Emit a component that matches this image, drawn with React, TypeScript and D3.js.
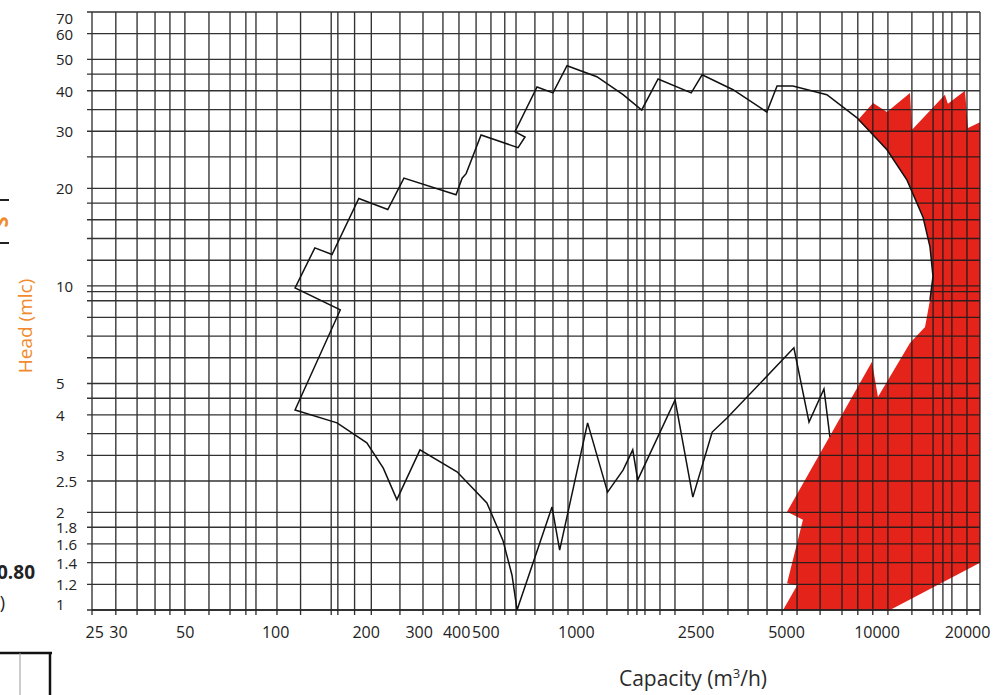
import React from "react";
import * as d3 from "d3";

// vertical grid lines (capacity, m3/h)
const capacityGrid = [24.5, 29.4, 34.6, 39.7, 44.5, 49.9, 60, 70.5, 79.6, 86, 101, 121, 153, 161, 183, 208, 259, 309, 360, 407, 464, 520, 578, 630, 728, 836, 938, 1053, 1264, 1485, 1590, 1691, 1897, 2128, 2637, 3193, 3724, 4307, 4832, 5420, 6466, 7646, 8630, 9680, 10868, 13059, 15360, 16560, 17740, 19910, 22000];
// horizontal grid lines (head, m)
const headGrid = [1, 1.2, 1.4, 1.6, 1.8, 2, 2.5, 3, 3.5, 4, 4.5, 5, 6, 7, 8, 9, 9.6, 10, 12, 14, 16, 18, 20, 25, 30, 35, 40, 45, 50, 60, 70];

const capacityTicks = [25, 30, 50, 100, 200, 300, 400, 500, 1000, 2500, 5000, 10000, 20000];
const headTicks = [1, 1.2, 1.4, 1.6, 1.8, 2, 2.5, 3, 4, 5, 10, 20, 30, 40, 50, 60, 70];

// black envelope outline
const envelopeCapacity = [6970, 6660, 5940, 5290, 3170, 2830, 2440, 2130, 1600, 1540, 1430, 1270, 1090, 880, 830, 635, 611, 570, 504, 401, 302, 253, 228, 201, 160, 116, 164, 116, 135, 154, 189, 236, 267, 398, 417, 430, 482, 640, 675, 625, 740, 836, 931, 1170, 1430, 1650, 1870, 2410, 2620, 3320, 4300, 4650, 5250, 6810, 8580, 10790, 12580, 14220, 15000, 15350, 15000];
const envelopeHead = [3.42, 4.81, 3.8, 6.44, 3.91, 3.54, 2.23, 4.45, 2.52, 3.12, 2.7, 2.31, 3.78, 1.53, 2.08, 1.0, 1.28, 1.64, 2.14, 2.67, 3.12, 2.19, 2.74, 3.28, 3.78, 4.14, 8.43, 9.86, 13.1, 12.5, 18.6, 17.2, 21.5, 19.1, 21.5, 22.2, 29.2, 26.7, 28.8, 29.9, 41.1, 39.4, 47.8, 44.2, 38.9, 34.9, 43.5, 39.4, 44.8, 40.3, 34.4, 41.4, 41.4, 38.9, 33.0, 26.3, 21.2, 16.3, 13.2, 10.7, 9.05];

// red zone
const zoneCapacity = [8640, 9700, 10790, 12870, 13070, 16820, 17200, 19610, 20070, 22000, 22000, 11040, 4870, 5420, 5020, 5670, 5020, 9620, 10070, 12870, 14440, 15000, 15350, 15000, 14220, 12580, 10790];
const zoneHead = [32.5, 36.7, 34.4, 39.4, 30.3, 38.9, 36.5, 40.0, 30.7, 32.0, 1.4, 1.0, 1.0, 1.19, 1.21, 1.9, 2.01, 5.83, 4.54, 6.67, 7.47, 9.05, 10.7, 13.2, 16.3, 21.2, 26.3];

const W = 1006;
const H = 695;
const FONT = "'Open Sans', 'Noto Sans', sans-serif";

export default function App() {
  const x = d3.scaleLog().domain([24.5, 22000]).range([92, 980]);
  const y = d3.scaleLog().domain([1, 70]).range([610, 12]);

  const envelope = envelopeCapacity.map((c, i) => [c, envelopeHead[i]] as [number, number]);
  const zone = zoneCapacity.map((c, i) => [c, zoneHead[i]] as [number, number]);

  const line = d3
    .line<[number, number]>()
    .x((d) => x(d[0]))
    .y((d) => y(d[1]));

  const [x0, x1] = x.range();
  const [yb, yt] = y.range();

  return (
    <svg
      width={W}
      height={H}
      style={{ position: "absolute", left: 0, top: 0, background: "#fff" }}
      fontFamily={FONT}
    >
      <rect x={0} y={0} width={W} height={H} fill="#fff" />
      {/* red zone */}
      <path d={line(zone) + "Z"} fill="#e4231b" stroke="none" />

      {/* grid */}
      <g stroke="#1c1c1c" strokeWidth={1.35} opacity={0.9}>
        {capacityGrid.map((v, i) => (
          <line key={"vx" + i} x1={x(v)} x2={x(v)} y1={yt} y2={yb + 5} />
        ))}
        {headGrid.map((v, i) => (
          <line key={"hy" + i} x1={x0 - 5} x2={x1} y1={y(v)} y2={y(v)} />
        ))}
      </g>
      <line x1={x0} x2={x1} y1={yb} y2={yb} stroke="#222" strokeWidth={1.6} />

      {/* envelope */}
      <path d={line(envelope) || ""} fill="none" stroke="#111" strokeWidth={1.5} strokeLinejoin="miter" />

      {/* y tick labels */}
      <g fill="#222" fontSize={15}>
        {headTicks.map((v, i) => (
          <text
            key={"yt" + i}
            x={56}
            y={Math.max(18, Math.min(604, y(v)))}
            dominantBaseline="central"
          >
            {String(v)}
          </text>
        ))}
      </g>

      {/* x tick labels */}
      <g fill="#222" fontSize={16} textAnchor="middle">
        {capacityTicks.map((v, i) => (
          <text key={"xt" + i} x={x(v)} y={638}>
            {String(v)}
          </text>
        ))}
      </g>

      {/* axis titles */}
      <text x={693} y={686} textAnchor="middle" fontSize={21} fill="#2a2a2a">
        Capacity (m<tspan dy={-8} fontSize={13}>3</tspan>
        <tspan dy={8}>/h)</tspan>
      </text>
      <text
        transform="translate(32,326) rotate(-90)"
        textAnchor="middle"
        fontSize={19}
        fill="#f08a2c"
      >
        Head (mlc)
      </text>

      {/* cropped neighbouring content at the left edge */}
      <line x1={0} x2={9} y1={200} y2={200} stroke="#222" strokeWidth={2} />
      <line x1={0} x2={9} y1={243} y2={243} stroke="#222" strokeWidth={2} />
      <text transform="translate(8,222) rotate(-90)" textAnchor="middle" fontSize={20} fontWeight="bold" fill="#f08a2c">
        S
      </text>
      <text x={35} y={579} textAnchor="end" fontSize={19} fontWeight="bold" fill="#222">
        0.80
      </text>
      <text x={5} y={609} textAnchor="end" fontSize={18} fill="#222">
        )
      </text>
      <line x1={0} x2={52} y1={653} y2={653} stroke="#111" strokeWidth={2.5} />
      <line x1={20} x2={20} y1={653} y2={695} stroke="#999" strokeWidth={1} />
      <line x1={50} x2={50} y1={653} y2={695} stroke="#111" strokeWidth={2.5} />
    </svg>
  );
}
